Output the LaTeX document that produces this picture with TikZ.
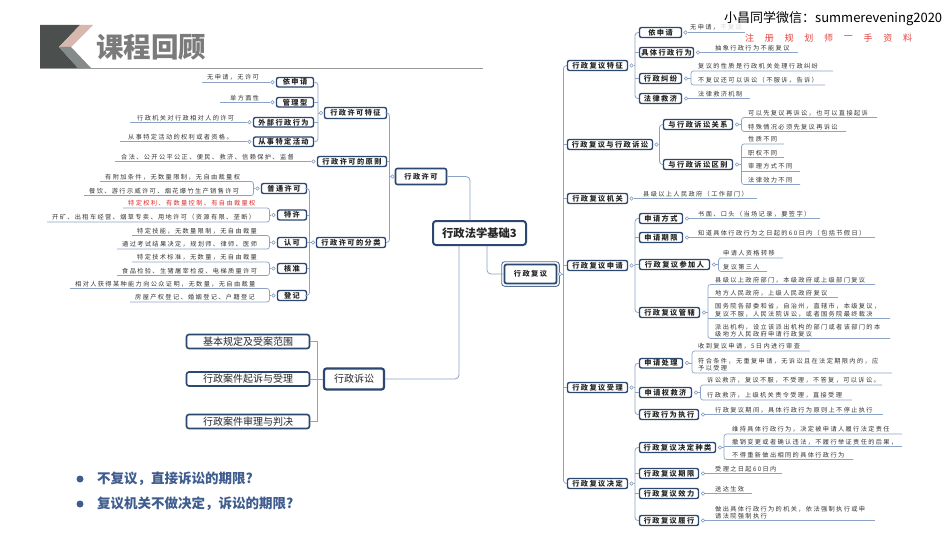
\documentclass[tikz,border=0pt]{standalone}
\usepackage{fontspec}
\setmainfont{Noto Sans CJK SC}
\newfontfamily\lsA[LetterSpace=20]{Noto Sans CJK SC}
\newfontfamily\lsB[LetterSpace=22]{Noto Sans CJK SC}
\definecolor{navy}{HTML}{2B4870}
\definecolor{conn}{HTML}{8DA3C5}
\definecolor{dotc}{HTML}{7F96B8}
\definecolor{leafc}{HTML}{333333}
\definecolor{hdark}{HTML}{4B504E}
\definecolor{hpink}{HTML}{D6B8AE}
\definecolor{hgray}{HTML}{858B8A}
\definecolor{titlec}{HTML}{7B7B7B}
\definecolor{bulc}{HTML}{3E5C8E}
\definecolor{wred}{HTML}{E5413B}
\definecolor{lred}{HTML}{E02A2A}
\tikzset{
  lbox/.style={draw=navy, line width=1.4pt, rounded corners=2pt, fill=white, inner sep=0pt, font=\lsA\bfseries\fontsize{7.2}{8}\selectfont, text=black!85},
  leaf/.style={inner sep=0pt, font=\lsB\fontsize{6.2}{7.2}\selectfont, text=leafc, align=left},
  cn/.style={draw=conn, line width=0.8pt},
  ul/.style={draw=conn, line width=0.7pt},
  dot/.style={circle, draw=dotc, fill=white, line width=0.5pt, inner sep=0pt, minimum size=3.6pt},
  sbox/.style={draw=navy, line width=1.6pt, rounded corners=2.5pt, fill=white, inner sep=0pt, font=\fontsize{10}{12}\selectfont, text=black!85},
}
\newcommand\LBOX[7][]{\node[lbox,#1,minimum width={#5-#3-1},minimum height={#6-#4-1}] (#2) at ({(#3+#5)/2},{(#4+#6)/2}) {#7};}
\newcommand\LF[5][]{\node[leaf,#1,anchor=south west] (#2) at (#3,{#4-1.5}) {#5};}
\begin{document}
\begin{tikzpicture}[x=1pt,y=-1pt]
\fill[white] (0,0) rectangle (950,535);
\useasboundingbox (0,0) rectangle (950,535);

% ---------- header ----------
\fill[hdark] (40,25) -- (80,25) -- (59,47) -- (78,68) -- (40,68) -- cycle;
\fill[hpink] (80,25) -- (93,25) -- (71,47) -- (59,47) -- cycle;
\fill[hgray] (59,47) -- (71,47) -- (91,68) -- (78,68) -- cycle;
\node[anchor=west, inner sep=0pt, font=\bfseries\fontsize{27.5}{29}\selectfont, text=titlec] (title) at (96,47) {课程回顾};
\draw[line width=1.6pt, draw=black!40] (40,68.6) -- (483,68.6);

% ---------- root and main branches ----------
\node[draw=navy, line width=2pt, rounded corners=3pt, fill=white, minimum width=93, minimum height=24, inner sep=0pt, font=\bfseries\fontsize{11.3}{13}\selectfont, text=black!85] (root) at (479.5,233) {行政法学基础3};
\LBOX[line width=1.6pt]{k}{395}{168}{447}{185}{行政许可}
\LBOX[line width=1.8pt]{f}{504}{264}{557}{284}{行政复议}
\draw[draw=navy!55!conn, line width=0.9pt, rounded corners=3pt] ([shift={(-1.9,-1.9)}]f.north west) rectangle ([shift={(1.9,1.9)}]f.south east);
\node[sbox, line width=2.2pt, minimum width=60, minimum height=21] (s) at (354,379) {行政诉讼};
\draw[cn, rounded corners=4pt] ([xshift=-9.5pt]root.north) |- (k.east);
\draw[cn, rounded corners=4pt] ([xshift=7.5pt]root.south) |- (f.west);
\draw[cn, rounded corners=4pt] ([xshift=-20.5pt]root.south) |- (s.east);

% ---------- 行政许可 ----------
\node[dot] (dk) at (392.5,176.5) {};
\LBOX{tz}{324}{107}{387}{119}{行政许可特征}
\LBOX{yz}{317}{156}{387}{167}{行政许可的原则}
\LBOX{fl}{316}{237}{386}{248}{行政许可的分类}
\draw[cn, rounded corners=3pt] (tz.east) -- (389.5,113) -- (389.5,242.5) -- (fl.east);
\draw[cn] (yz.east) -- (389.5,161.5);
\draw[cn] (389.5,176.5) -- (dk.west);

% 特征
\node[dot] (dtz) at (321,113) {};
\LBOX{ysq}{276}{77}{314}{87.5}{依申请}
\LBOX{glx}{276}{97}{314}{107.5}{管理型}
\LBOX{wbx}{253}{117}{314}{127.5}{外部行政行为}
\LBOX{cst}{253}{136.5}{314}{147}{从事特定活动}
\draw[cn, rounded corners=3pt] (ysq.east) -- (318,82.25) -- (318,141.75) -- (cst.east);
\draw[cn] (glx.east) -- (318,102.25);
\draw[cn] (wbx.east) -- (318,122.25);
\draw[cn] (318,113) -- (dtz.west);
\node[dot] (dysq) at (272.5,82.25) {};
\node[dot] (dglx) at (272.5,102.25) {};
\node[dot] (dwbx) at (249.5,122.25) {};
\node[dot] (dcst) at (249.5,141.75) {};
\LF{tz1}{207}{82.25}{无申请，无许可}
\LF{tz2}{230}{102.25}{单方面性}
\LF{tz3}{137}{122.25}{行政机关对行政相对人的许可}
\LF{tz4}{128}{141.75}{从事特定活动的权利或者资格。}
\draw[ul] (dysq.west) -- (202,82.25);
\draw[ul] (dglx.west) -- (220,102.25);
\draw[ul] (dwbx.west) -- (130,122.25);
\draw[ul] (dcst.west) -- (120,141.75);

% 原则
\node[dot] (dyz) at (313.5,161.5) {};
\LF{yz1}{121}{161.5}{合法、公开公平公正、便民、救济、信赖保护、监督}
\draw[ul] (dyz.west) -- (115,161.5);

% 分类
\node[dot] (dfl) at (313,242.5) {};
\LBOX{pt}{261}{183}{307}{194}{普通许可}
\LBOX{tx}{277}{209.5}{307}{220.5}{特许}
\LBOX{rk}{277}{237}{307}{248}{认可}
\LBOX{hz}{277}{263}{307}{274}{核准}
\LBOX{dj}{277}{290}{307}{301}{登记}
\draw[cn, rounded corners=3pt] (pt.east) -- (309.5,188.5) -- (309.5,295.5) -- (dj.east);
\draw[cn] (tx.east) -- (309.5,215);
\draw[cn] (rk.east) -- (309.5,242.5);
\draw[cn] (hz.east) -- (309.5,268.5);
\draw[cn] (309.5,242.5) -- (dfl.west);

\node[dot] (dpt) at (257.5,188.5) {};
\LF{pt1}{105}{181.5}{有附加条件，无数量限制，无自由裁量权}
\LF{pt2}{89}{195.5}{餐饮、游行示威许可、烟花爆竹生产销售许可}
\draw[ul, rounded corners=2.5pt] (100,181.5) -- (253.5,181.5) -- (253.5,195.5) -- (84,195.5);
\draw[ul] (253.5,188.5) -- (dpt.west);

\node[dot] (dtx) at (273.5,215) {};
\LF[text=lred]{tx1}{128}{208}{特定权利、有数量控制、有自由裁量权}
\LF{tx2}{52}{222}{开矿、出租车经营、烟草专卖、用地许可（资源有限、垄断）}
\draw[ul, rounded corners=2.5pt] (123,208) -- (269.5,208) -- (269.5,222) -- (47,222);
\draw[ul] (269.5,215) -- (dtx.west);

\node[dot] (drk) at (273.5,242.5) {};
\LF{rk1}{137}{235.5}{特定技能，无数量限制，无自由裁量}
\LF{rk2}{122}{249}{通过考试结果决定，规划师、律师、医师}
\draw[ul, rounded corners=2.5pt] (132,235.5) -- (269.5,235.5) -- (269.5,249) -- (117,249);
\draw[ul] (269.5,242.5) -- (drk.west);

\node[dot] (dhz) at (273.5,268.5) {};
\LF{hz1}{137}{262}{特定技术标准，无数量，无自由裁量}
\LF{hz2}{122}{275.5}{食品检验、生猪屠宰检疫、电梯质量许可}
\draw[ul, rounded corners=2.5pt] (132,262) -- (269.5,262) -- (269.5,275.5) -- (117,275.5);
\draw[ul] (269.5,268.5) -- (dhz.west);

\node[dot] (ddj) at (273.5,295.5) {};
\LF{dj1}{75}{288.5}{相对人获得某种能力向公众证明，无数量，无自由裁量}
\LF{dj2}{135}{302}{房屋产权登记、婚姻登记、户籍登记}
\draw[ul, rounded corners=2.5pt] (70,288.5) -- (269.5,288.5) -- (269.5,302) -- (130,302);
\draw[ul] (269.5,295.5) -- (ddj.west);

% ---------- 行政诉讼 ----------
\node[sbox, minimum width=123, minimum height=14] (g1) at (248,341.5) {基本规定及受案范围};
\node[sbox, minimum width=123, minimum height=14] (g2) at (248,379) {行政案件起诉与受理};
\node[sbox, minimum width=123, minimum height=14] (g3) at (248,421.5) {行政案件审理与判决};
\draw[cn] (g1.east) -- (317,341.5) -- (317,421.5) -- (g3.east);
\draw[cn] (g2.east) -- (s.west);

% ---------- 行政复议 ----------
\node[dot] (df) at (560,274) {};
\LBOX{R1}{567}{60}{628}{71}{行政复议特征}
\LBOX{R2}{567}{139}{653}{150}{行政复议与行政诉讼}
\LBOX{R3}{567}{193}{628}{204}{行政复议机关}
\LBOX{R4}{567}{260}{628}{271}{行政复议申请}
\LBOX{R5}{567}{382}{628}{393}{行政复议受理}
\LBOX{R6}{567}{478}{628}{489}{行政复议决定}
\draw[cn, rounded corners=3pt] (R1.west) -- (563.5,65.5) -- (563.5,483.5) -- (R6.west);
\draw[cn] (563.5,144.5) -- (R2.west);
\draw[cn] (563.5,198.5) -- (R3.west);
\draw[cn] (563.5,265.5) -- (R4.west);
\draw[cn] (563.5,387.5) -- (R5.west);
\draw[cn] (df.east) -- (563.5,274);
\node[dot] (dR1) at (631.5,65.5) {};
\node[dot] (dR2) at (656.5,144.5) {};
\node[dot] (dR3) at (631.5,198.5) {};
\node[dot] (dR4) at (631.5,265.5) {};
\node[dot] (dR5) at (631.5,387.5) {};
\node[dot] (dR6) at (631.5,483.5) {};

% 特征
\LBOX{a1}{639}{27}{682}{38}{依申请}
\LBOX{a2}{639}{47}{694}{58}{具体行政行为}
\LBOX{a3}{639}{73}{682}{84}{行政纠纷}
\LBOX{a4}{639}{93}{682}{104}{法律救济}
\draw[cn, rounded corners=3pt] (a1.west) -- (635,32.5) -- (635,98.5) -- (a4.west);
\draw[cn] (635,52.5) -- (a2.west);
\draw[cn] (635,78.5) -- (a3.west);
\draw[cn] (dR1.east) -- (635,65.5);
\node[dot] (da1) at (685.5,32.5) {};
\node[dot] (da2) at (698,52.5) {};
\node[dot] (da3) at (686,78.5) {};
\node[dot] (da4) at (686,98.5) {};
\LF{a1t}{690}{32}{无申请，不复议}
\draw[ul] (da1.east) -- (745,32.5);
\LF{a2t}{715}{52.5}{抽象行政行为不能复议}
\draw[ul] (da2.east) -- (798,52.5);
\LF{a3t1}{698}{71}{复议的性质是行政机关处理行政纠纷}
\LF{a3t2}{698}{85}{不复议还可以诉讼（不服诉，告诉）}
\draw[ul, rounded corners=2.5pt] (833,71) -- (691,71) -- (691,85) -- (825,85);
\draw[ul] (da3.east) -- (691,78.5);
\LF{a4t}{698}{98.5}{法律救济机制}
\draw[ul] (da4.east) -- (750,98.5);

% 与行政诉讼
\LBOX{b1}{663}{119}{733}{130}{与行政诉讼关系}
\LBOX{b2}{663}{159}{733}{170}{与行政诉讼区别}
\draw[cn, rounded corners=3pt] (b1.west) -- (659.5,124.5) -- (659.5,164.5) -- (b2.west);
\draw[cn] (dR2.east) -- (659.5,144.5);
\node[dot] (db1) at (737,124.5) {};
\node[dot] (db2) at (737,164.5) {};
\LF{b1t1}{748}{117.5}{可以先复议再诉讼，也可以直接起诉}
\LF{b1t2}{748}{131.5}{特殊情况必须先复议再诉讼}
\draw[ul, rounded corners=2.5pt] (877,117.5) -- (741.5,117.5) -- (741.5,131.5) -- (846,131.5);
\draw[ul] (db1.east) -- (741.5,124.5);
\LF{b2t1}{748}{144}{性质不同}
\LF{b2t2}{748}{157.5}{职权不同}
\LF{b2t3}{748}{171}{审理方式不同}
\LF{b2t4}{748}{184.5}{法律效力不同}
\draw[ul, rounded corners=2.5pt] (784,144) -- (741.5,144) -- (741.5,184.5) -- (800,184.5);
\draw[ul] (741.5,157.5) -- (784,157.5);
\draw[ul] (741.5,171) -- (800,171);
\draw[ul] (db2.east) -- (741.5,164.5);

% 机关
\LF{R3t}{643}{198.5}{县级以上人民政府（工作部门）}
\draw[ul] (dR3.east) -- (757,198.5);

% 申请
\LBOX{c1}{639}{213}{683}{224}{申请方式}
\LBOX{c2}{639}{232}{683}{243}{申请期限}
\LBOX{c3}{639}{259}{710}{270}{行政复议参加人}
\LBOX{c4}{639}{307}{700}{318}{行政复议管辖}
\draw[cn, rounded corners=3pt] (c1.west) -- (635,218.5) -- (635,312.5) -- (c4.west);
\draw[cn] (635,237.5) -- (c2.west);
\draw[cn] (635,264.5) -- (c3.west);
\draw[cn] (dR4.east) -- (635,265.5);
\node[dot] (dc1) at (687,218.5) {};
\node[dot] (dc2) at (687,237.5) {};
\node[dot] (dc3) at (714,264.5) {};
\node[dot] (dc4) at (704,312.5) {};
\LF{c1t}{698}{218.5}{书面、口头（当场记录，要签字）}
\draw[ul] (dc1.east) -- (820,218.5);
\LF{c2t}{698}{237.5}{知道具体行政行为之日起的60日内（包括节假日）}
\draw[ul] (dc2.east) -- (875,237.5);
\LF{c3t1}{723}{258}{申请人资格转移}
\LF{c3t2}{723}{271.5}{复议第三人}
\draw[ul, rounded corners=2.5pt] (783,258) -- (718.5,258) -- (718.5,271.5) -- (767,271.5);
\draw[ul] (dc3.east) -- (718.5,264.5);
\LF{c4t1}{715}{284.5}{县级以上政府部门，本级政府或上级部门复议}
\LF{c4t2}{715}{297.5}{地方人民政府，上级人民政府复议}
\LF{c4t3}{715}{318.5}{国务院各部委和省，自治州，直辖市，本级复议，\\复议不服，人民法院诉讼，或者国务院最终裁决}
\LF{c4t4}{715}{338.5}{派出机构，设立该派出机构的部门或者该部门的本\\级地方人民政府申请行政复议}
\draw[ul, rounded corners=2.5pt] (875,284.5) -- (708,284.5) -- (708,338.5) -- (890,338.5);
\draw[ul] (708,297.5) -- (838,297.5);
\draw[ul] (708,318.5) -- (890,318.5);
\draw[ul] (dc4.east) -- (708,312.5);

% 受理
\LBOX{d1}{639}{358}{683}{368.5}{申请处理}
\LBOX{d2}{639}{387}{692}{398}{申请权救济}
\LBOX{d3}{639}{409}{699}{420}{行政行为执行}
\draw[cn, rounded corners=3pt] (d1.west) -- (635,363.25) -- (635,414.5) -- (d3.west);
\draw[cn] (635,392.5) -- (d2.west);
\draw[cn] (dR5.east) -- (635,387.5);
\node[dot] (dd1) at (687,363) {};
\node[dot] (dd2) at (696,392.5) {};
\node[dot] (dd3) at (703,414.5) {};
\LF{d1t1}{698}{351}{收到复议申请，5日内进行审查}
\LF{d1t2}{698}{373}{符合条件，无重复申请，无诉讼且在法定期限内的，应\\予以受理}
\draw[ul, rounded corners=2.5pt] (810,351) -- (692,351) -- (692,373) -- (892,373);
\draw[ul] (dd1.east) -- (692,363);
\LF{d2t1}{707}{385}{诉讼救济，复议不服，不受理，不答复，可以诉讼。}
\LF{d2t2}{707}{400}{行政救济，上级机关责令受理，直接受理}
\draw[ul, rounded corners=2.5pt] (882,385) -- (700.5,385) -- (700.5,400) -- (852,400);
\draw[ul] (dd2.east) -- (700.5,392.5);
\LF{d3t}{715}{414.5}{行政复议期间，具体行政行为原则上不停止执行}
\draw[ul] (dd3.east) -- (883,414.5);

% 决定
\LBOX{e1}{639}{442}{716}{453}{行政复议决定种类}
\LBOX{e2}{639}{468}{699}{479}{行政复议期限}
\LBOX{e3}{639}{488}{699}{499}{行政复议效力}
\LBOX{e4}{639}{515}{699}{526}{行政复议履行}
\draw[cn, rounded corners=3pt] (e1.west) -- (635,447.5) -- (635,520.5) -- (e4.west);
\draw[cn] (635,473.5) -- (e2.west);
\draw[cn] (635,493.5) -- (e3.west);
\draw[cn] (dR6.east) -- (635,483.5);
\node[dot] (de1) at (720,447.5) {};
\node[dot] (de2) at (703,473.5) {};
\node[dot] (de3) at (703,493.5) {};
\node[dot] (de4) at (703,520.5) {};
\LF{e1t1}{732}{434}{维持具体行政行为，决定被申请人履行法定责任}
\LF{e1t2}{732}{446.5}{撤销变更或者确认违法，不履行举证责任的后果，}
\LF{e1t3}{732}{459.5}{不得重新做出相同的具体行政行为}
\draw[ul, rounded corners=2.5pt] (902,434) -- (724,434) -- (724,459.5) -- (853,459.5);
\draw[ul] (724,446.5) -- (902,446.5);
\draw[ul] (de1.east) -- (724,447.5);
\LF{e2t}{715}{473.5}{受理之日起60日内}
\draw[ul] (de2.east) -- (782,473.5);
\LF{e3t}{715}{493.5}{送达生效}
\draw[ul] (de3.east) -- (752,493.5);
\LF{e4t}{715}{520.5}{做出具体行政行为的机关，依法强制执行或申\\请法院强制执行}
\draw[ul] (de4.east) -- (875,520.5);

% ---------- bullets ----------
\node[circle, fill=bulc, minimum size=7pt, inner sep=0pt] (bu1) at (80,479) {};
\node[circle, fill=bulc, minimum size=7pt, inner sep=0pt] (bu2) at (80,504) {};
\node[anchor=west, inner sep=0pt, font=\bfseries\fontsize{13.5}{15}\selectfont, text=bulc] (q1) at (97,479) {不复议，直接诉讼的期限?};
\node[anchor=west, inner sep=0pt, font=\bfseries\fontsize{13.5}{15}\selectfont, text=bulc] (q2) at (97,504) {复议机关不做决定，诉讼的期限?};

% ---------- watermark ----------
\fill[white, opacity=0.8] (717,8) rectangle (940,30.5);
\node[anchor=west, inner sep=0pt, font=\fontsize{13}{15}\selectfont, text=black] (wm) at (724,19) {小昌同学微信：summerevening2020};
\foreach \ch [count=\i] in {注,册,规,划,师,一,手,资,料}
  \node[inner sep=0pt, font=\fontsize{9}{10}\selectfont, text=wred] (wr\i) at ({749.5+(\i-1)*19.75},38) {\ch};
\end{tikzpicture}
\end{document}
